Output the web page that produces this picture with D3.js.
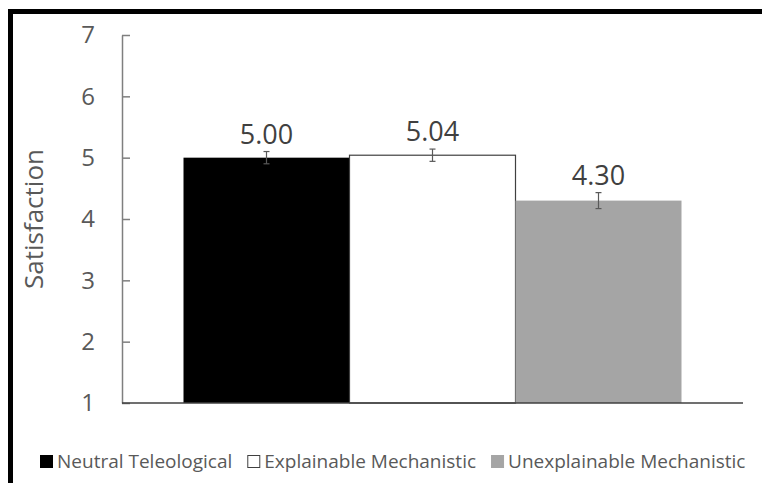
<!DOCTYPE html>
<html><head><meta charset="utf-8">
<script src="https://cdn.jsdelivr.net/npm/d3@7"></script>
<style>body{margin:0;background:#fff}svg{display:block}text{font-family:"Open Sans",sans-serif}</style>
</head><body>
<script>
const categories = ["Neutral Teleological", "Explainable Mechanistic", "Unexplainable Mechanistic"];
const values = [5.00, 5.04, 4.30];
const errors = [0.10, 0.10, 0.13];
const valueLabels = ["5.00", "5.04", "4.30"];
const colors = ["#000000", "#ffffff", "#a5a5a5"];
const yTicks = [1, 2, 3, 4, 5, 6, 7];
const yTitle = "Satisfaction";

(function () {
const W = 762, H = 483;
const svg = d3.select("body").append("svg").attr("width", W).attr("height", H);
svg.append("rect").attr("width", W).attr("height", H).attr("fill", "#fff");

// frame (top and left black border)
svg.append("rect").attr("x", 8).attr("y", 9).attr("width", W - 8).attr("height", 5).attr("fill", "#000");
svg.append("rect").attr("x", 8).attr("y", 9).attr("width", 5).attr("height", H - 9).attr("fill", "#000");

const pLeft = 122, pRight = 743, pTop = 35, pBottom = 403;
const y = d3.scaleLinear().domain([1, 7]).range([pBottom, pTop]);
const x0 = d3.scaleBand().domain(["g"]).range([pLeft, pRight]).paddingOuter(0.1235).paddingInner(0);
const x1 = d3.scaleBand().domain(categories).range([0, x0.bandwidth()]);
const gx = x0("g");

// bars
svg.append("g").selectAll("rect").data(categories).join("rect")
  .attr("x", (d) => gx + x1(d))
  .attr("y", (d, i) => y(values[i]))
  .attr("width", x1.bandwidth())
  .attr("height", (d, i) => y(1) - y(values[i]))
  .attr("fill", (d, i) => colors[i])
  .attr("stroke", (d, i) => i === 1 ? "#404040" : "none")
  .attr("stroke-width", 1.2);

// y axis
const yAxis = d3.axisLeft(y).tickValues(yTicks).tickFormat(d3.format("d")).tickSizeInner(-8).tickSizeOuter(0).tickPadding(27);
const ga = svg.append("g").attr("transform", `translate(${pLeft},0)`).call(yAxis);
ga.select(".domain").attr("stroke", "#7f7f7f").attr("stroke-width", 1.5);
ga.selectAll(".tick line").attr("stroke", "#7f7f7f").attr("stroke-width", 1.5);
ga.selectAll(".tick text").attr("fill", "#595959").attr("font-size", 24).attr("font-family", '"Open Sans",sans-serif');

// baseline
svg.append("line").attr("x1", pLeft).attr("x2", pRight).attr("y1", y(1)).attr("y2", y(1))
  .attr("stroke", "#404040").attr("stroke-width", 1.5);

// error bars
const eg = svg.append("g").attr("stroke", "#595959").attr("stroke-width", 1.2);
categories.forEach((c, i) => {
  const cx = gx + x1(c) + x1.bandwidth() / 2;
  const y0 = y(values[i] - errors[i]), y1v = y(values[i] + errors[i]);
  eg.append("line").attr("x1", cx).attr("x2", cx).attr("y1", y0).attr("y2", y1v);
  eg.append("line").attr("x1", cx - 3).attr("x2", cx + 3).attr("y1", y0).attr("y2", y0);
  eg.append("line").attr("x1", cx - 3).attr("x2", cx + 3).attr("y1", y1v).attr("y2", y1v);
});

// value labels
svg.append("g").selectAll("text").data(categories).join("text")
  .attr("x", (d) => gx + x1(d) + x1.bandwidth() / 2)
  .attr("y", (d, i) => y(values[i] + errors[i]) - 8)
  .attr("text-anchor", "middle")
  .attr("font-size", 27)
  .attr("fill", "#404040")
  .text((d, i) => valueLabels[i]);

// y title
svg.append("text")
  .attr("transform", `translate(43,${(pTop + pBottom) / 2}) rotate(-90)`)
  .attr("text-anchor", "middle")
  .attr("font-size", 26)
  .attr("fill", "#595959")
  .text(yTitle);

// legend
const lg = svg.append("g");
let lx = 40;
const sq = 13, ly = 468, fs = 19;
categories.forEach((c, i) => {
  lg.append("rect").attr("x", lx + 0.5).attr("y", ly - sq + 0.5).attr("width", sq - 1).attr("height", sq - 1)
    .attr("fill", colors[i]).attr("stroke", i === 1 ? "#404040" : colors[i]).attr("stroke-width", 1);
  const t = lg.append("text").attr("x", lx + sq + 4).attr("y", ly).attr("font-size", fs)
    .attr("fill", "#595959").text(c);
  const w = t.node().getComputedTextLength();
  lx += sq + 4 + w + 15;
});
})();
</script>
</body></html>
